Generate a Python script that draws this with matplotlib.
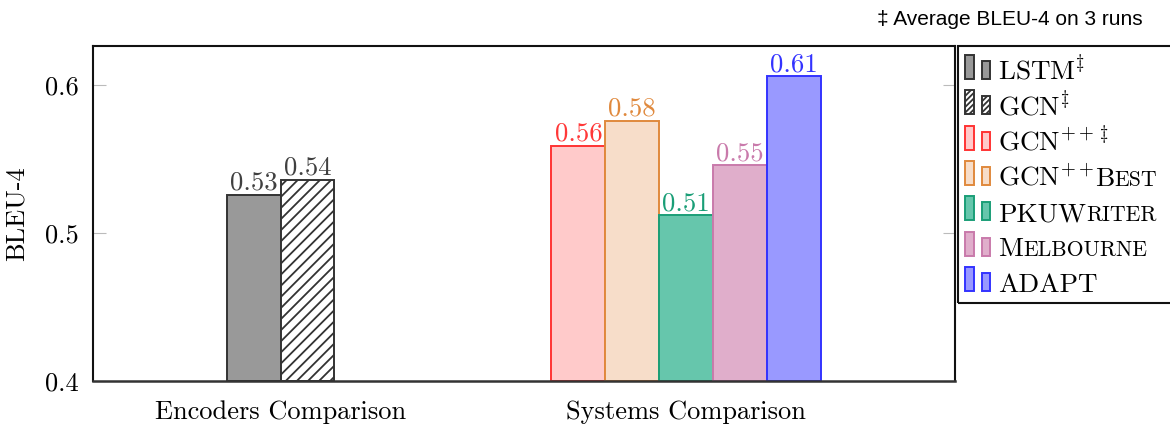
import matplotlib
matplotlib.use("Agg")
import matplotlib.pyplot as plt
from matplotlib.patches import Rectangle

plt.rcParams['font.family'] = ['cmr10', 'DejaVu Sans']
plt.rcParams['mathtext.fontset'] = 'cm'
plt.rcParams['axes.formatter.use_mathtext'] = True
plt.rcParams['hatch.linewidth'] = 1.3

# ---- data ----
group_labels = ['Encoders Comparison', 'Systems Comparison']
encoder_names = ['LSTM', 'GCN']
encoder_scores = [0.526, 0.536]
system_names = ['GCN++', 'GCN++Best', 'PKUWriter', 'Melbourne', 'ADAPT']
system_scores = [0.559, 0.576, 0.512, 0.546, 0.606]
y_ticks = [0.4, 0.5, 0.6]

# ---- styles ----
enc_fill = ['#999999', 'white']
enc_edge = ['#333333', '#333333']
enc_hatch = [None, '///']
enc_text = ['#404040', '#404040']
sys_fill = ['#FFCACA', '#F7DDC9', '#66C6AC', '#E0AECB', '#9999FF']
sys_edge = ['#FF3333', '#E0893D', '#1A9E77', '#C97AAB', '#3333FF']
sys_text = ['#FF3838', '#E0893D', '#1A9E77', '#C97AAB', '#3333FF']

W, H = 1170, 425
fig = plt.figure(figsize=(W / 100, H / 100), dpi=100)
ax = fig.add_axes([93 / W, 1 - 381 / H, (955 - 93) / W, (381 - 46) / H])

bw = 0.1328
fs = 19

def draw_bar(x, v, fc, ec, hatch, tc):
    ax.bar(x, v - 0.4, bottom=0.4, width=bw, color=fc, edgecolor=ec,
           hatch=hatch, linewidth=1.4, zorder=2)
    ax.annotate(f'{v:.2f}', (x, v), xytext=(0, 3.5), textcoords='offset points',
                ha='center', va='baseline', fontsize=fs + 0.3, color=tc)

enc_offsets = [-0.5, 0.5]
for i, v in enumerate(encoder_scores):
    draw_bar(0 + enc_offsets[i] * bw, v, enc_fill[i], enc_edge[i], enc_hatch[i], enc_text[i])
for i, v in enumerate(system_scores):
    draw_bar(1 + (i - 2) * bw, v, sys_fill[i], sys_edge[i], None, sys_text[i])

ax.set_xlim(-0.4625, 1.663)
ax.set_ylim(0.4, 0.6264)
ax.set_xticks([0, 1])
ax.set_xticklabels(group_labels, fontsize=fs)
ax.set_yticks(y_ticks)
ax.set_yticklabels([f'{t:.1f}' for t in y_ticks], fontsize=fs)
ax.tick_params(axis='x', length=0, pad=14)
ax.tick_params(axis='y', direction='in', length=9, width=0.8, color='#bbbbbb',
               right=True, pad=10)
ax.set_ylabel('BLEU-4', fontsize=fs, labelpad=12)
for s in ax.spines.values():
    s.set_linewidth(1.5)
    s.set_color('#111111')
ax.spines['bottom'].set_color('#333333')
ax.spines['bottom'].set_linewidth(1.8)

# ---- legend (drawn manually in pixel space) ----
def fx(px):
    return px / W

def fy(py):
    return 1 - py / H

fig.patches.append(Rectangle((fx(958), fy(303)), fx(1300) - fx(958), fy(46) - fy(303),
                             transform=fig.transFigure, fill=False,
                             edgecolor='#111111', linewidth=1.5))

leg_fill = enc_fill + sys_fill
leg_edge = enc_edge + sys_edge
leg_hatch = ['', '//////'] + [None] * 5
leg_pieces = [
    [('LSTM$^{\\ddag}$', 1.0)],
    [('GCN$^{\\ddag}$', 1.0)],
    [('GCN$^{++\\,\\ddag}$', 1.0)],
    [('GCN$^{++}$', 1.0), ('B', 1.0), ('EST', 0.8)],
    [('PKUW', 1.0), ('RITER', 0.8)],
    [('M', 1.0), ('ELBOURNE', 0.8)],
    [('ADAPT', 1.0)],
]
lfs = 19.6
renderer = fig.canvas.get_renderer()
base0, step = 80, 35.3
for r, pieces in enumerate(leg_pieces):
    by = base0 + r * step
    for (x0, w0, h0) in [(965, 9, 24), (982, 8, 18)]:
        fig.patches.append(Rectangle((fx(x0), fy(by - 1)), fx(w0), h0 / H,
                                     transform=fig.transFigure,
                                     facecolor=leg_fill[r], edgecolor=leg_edge[r],
                                     hatch=leg_hatch[r], linewidth=1.4))
    x = 998
    for txt, f in pieces:
        t = fig.text(fx(x), fy(by), txt, fontsize=lfs * f, ha='left', va='baseline')
        bb = t.get_window_extent(renderer)
        x += bb.width + 0.5

fig.text(fx(877), fy(25), '\u2021 Average BLEU-4 on 3 runs', fontsize=15,
         family=['Liberation Sans', 'DejaVu Sans'], ha='left', va='baseline')

fig.savefig('out.png', dpi=100)
